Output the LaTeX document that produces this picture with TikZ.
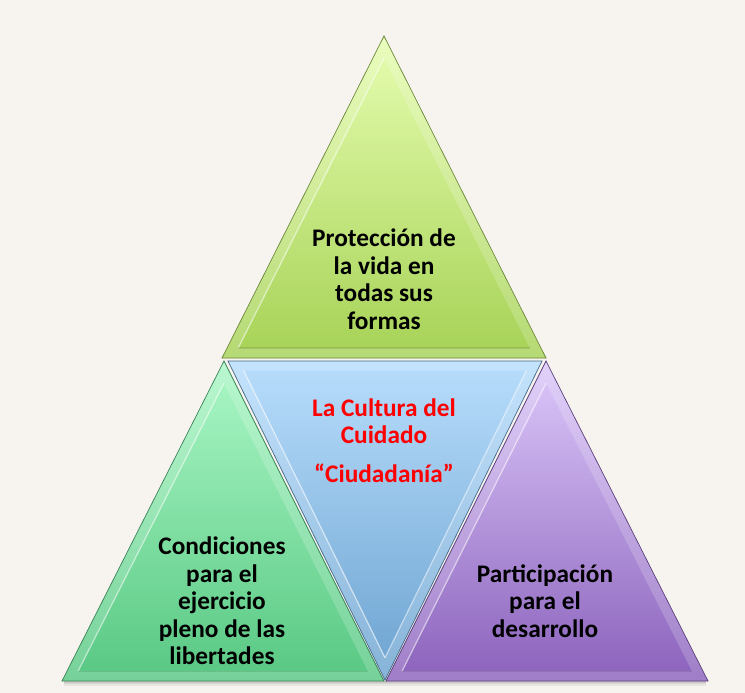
\documentclass[tikz,border=0pt]{standalone}
\usepackage{fontspec}
\setmainfont{Carlito}
\usetikzlibrary{calc}
\definecolor{bg}{HTML}{F7F4F0}
\definecolor{gTop}{HTML}{E6FDB0}
\definecolor{gBot}{HTML}{A6D256}
\definecolor{mTop}{HTML}{ABF7C6}
\definecolor{mBot}{HTML}{58C883}
\definecolor{pTop}{HTML}{DCC8FA}
\definecolor{pBot}{HTML}{8B62BC}
\definecolor{bTop}{HTML}{B8DDFC}
\definecolor{bBot}{HTML}{6CA3D0}
\definecolor{redtxt}{HTML}{FF0000}
\tikzset{
  lbl/.style={align=center,font=\bfseries\fontsize{25.3}{27.5}\selectfont,text=black,inner sep=0pt},
  redlbl/.style={lbl,text=redtxt},
}
% #1,#2,#3 vertices (first = apex), #4 incentre, #5 top colour, #6 bottom colour
\newcommand{\bevtri}[6]{%
  \shade[top color=#5,bottom color=#6] (#1) -- (#2) -- (#3) -- cycle;
  \fill[white,opacity=0.18,even odd rule] (#1) -- (#2) -- (#3) -- cycle
     ($(#4)!0.9!(#1)$) -- ($(#4)!0.9!(#2)$) -- ($(#4)!0.9!(#3)$) -- cycle;
  \draw[white,opacity=0.55,line width=1.2pt] ($(#4)!0.9!(#2)$) -- ($(#4)!0.9!(#1)$);
  \draw[black,opacity=0.10,line width=1.2pt] ($(#4)!0.9!(#2)$) -- ($(#4)!0.9!(#3)$);
  \draw[#6!65!black,line width=0.7pt,line join=miter] (#1) -- (#2) -- (#3) -- cycle;
}
\begin{document}
\begin{tikzpicture}[x=1pt,y=-1pt]
\fill[bg] (0,0) rectangle (745,693);
\useasboundingbox (0,0) rectangle (745,693);
% vertices
\coordinate (TA) at (384,36);
\coordinate (TB) at (222,358);
\coordinate (TC) at (546,358);
\coordinate (TI) at (384,258);
\coordinate (MA) at (385,680);
\coordinate (MB) at (228,361);
\coordinate (MC) at (542,361);
\coordinate (MI) at (385,458);
\coordinate (LA) at (224,361);
\coordinate (LB) at (62,681);
\coordinate (LC) at (384,681);
\coordinate (LI) at (223,582);
\coordinate (RA) at (546,361);
\coordinate (RB) at (386,681);
\coordinate (RC) at (708,681);
\coordinate (RI) at (547,582);
% soft shadow along the bottom
\foreach \o/\op in {1/0.18,2.5/0.12,4/0.06}{
  \draw[black,opacity=\op,line width=1.5pt] ($(LB)+(2,\o)$) -- ($(RC)+(-2,\o)$);
}
\bevtri{TA}{TB}{TC}{TI}{gTop}{gBot}
\bevtri{LA}{LB}{LC}{LI}{mTop}{mBot}
\bevtri{RA}{RB}{RC}{RI}{pTop}{pBot}
% middle inverted triangle
\shade[top color=bTop,bottom color=bBot] (MB) -- (MC) -- (MA) -- cycle;
\fill[white,opacity=0.18,even odd rule] (MB) -- (MC) -- (MA) -- cycle
   ($(MI)!0.9!(MB)$) -- ($(MI)!0.9!(MC)$) -- ($(MI)!0.9!(MA)$) -- cycle;
\draw[white,opacity=0.6,line width=1.2pt] ($(MI)!0.9!(MB)$) -- ($(MI)!0.9!(MA)$);
\draw[white,opacity=0.5,line width=1.2pt] ($(MI)!0.9!(MC)$) -- ($(MI)!0.9!(MA)$);
\draw[bBot!65!black,line width=0.7pt,line join=miter] (MB) -- (MC) -- (MA) -- cycle;
% texts
\node[lbl] (ttop) at (384,279) {Protección de\\la vida en\\todas sus\\formas};
\node[redlbl] (tmid) at (384,421) {La Cultura del\\Cuidado};
\node[redlbl] (tcit) at (384,473) {“Ciudadanía”};
\node[lbl] (tleft) at (222,601) {Condiciones\\para el\\ejercicio\\pleno de las\\libertades};
\node[lbl] (tright) at (545,601) {Participación\\para el\\desarrollo};
\end{tikzpicture}
\end{document}
